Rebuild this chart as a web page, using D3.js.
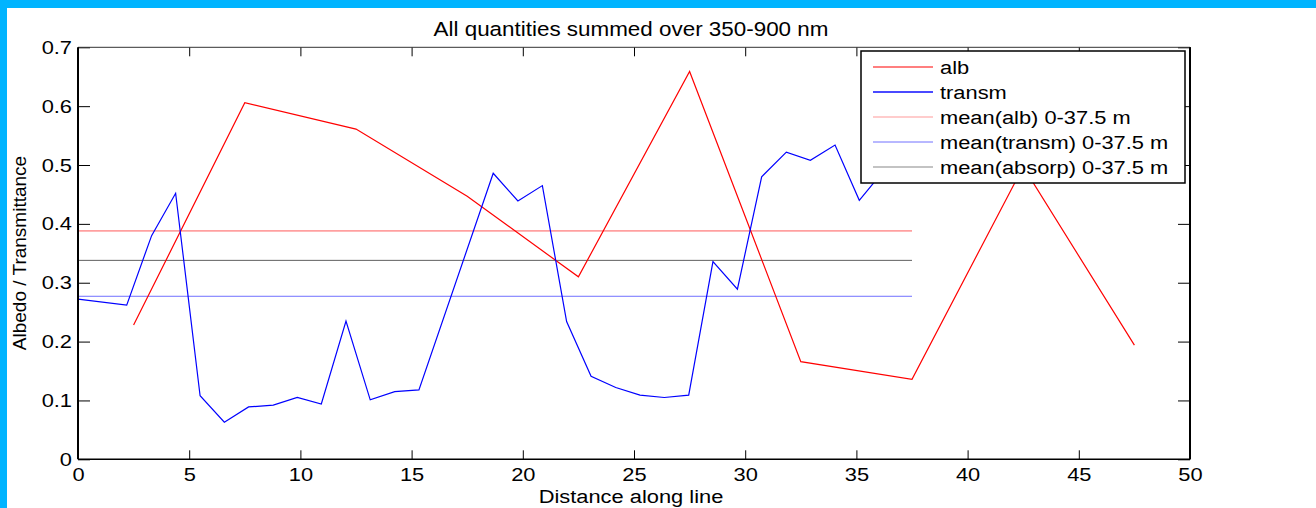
<!DOCTYPE html>
<meta charset="utf-8">
<script src="https://d3js.org/d3.v7.min.js"></script>
<style>
  body { margin: 0; background: #fff; }
  svg text { font-family: "Liberation Sans", Arial, sans-serif; fill: #000; }
</style>
<body>
<div id="chart"></div>
<script>

// distance along line for transmittance samples (m)
var transmX = [0, 2.19, 3.31, 4.39, 5.49, 6.58, 7.67, 8.78, 9.86, 10.94, 12.05, 13.14, 14.24, 15.33,
               18.67, 19.78, 20.88, 21.97, 23.07, 24.18, 25.27, 26.36, 27.46, 28.55, 29.65, 30.74,
               31.85, 32.93, 34.04, 35.13, 36.22];
var transm = [0.272, 0.262, 0.380, 0.452, 0.108, 0.063, 0.089, 0.092, 0.105, 0.094, 0.235, 0.101, 0.115, 0.118,
              0.486, 0.439, 0.465, 0.234, 0.141, 0.122, 0.109, 0.105, 0.109, 0.336, 0.289, 0.480,
              0.522, 0.508, 0.534, 0.440, 0.490];

// albedo samples
var albX = [2.5, 7.5, 12.5, 17.5, 22.5, 27.5, 32.5, 37.5, 42.5, 47.5];
var alb  = [0.228, 0.606, 0.561, 0.447, 0.310, 0.659, 0.166, 0.136, 0.497, 0.194];

// means over 0-37.5 m
var meanRange = [0, 37.5];
var meanNames  = ['mean(alb) 0-37.5 m', 'mean(transm) 0-37.5 m', 'mean(absorp) 0-37.5 m'];
var meanValues = [0.388, 0.277, 0.338];

var xTicks = [0, 5, 10, 15, 20, 25, 30, 35, 40, 45, 50];
var yTicks = [0, 0.1, 0.2, 0.3, 0.4, 0.5, 0.6, 0.7];

var W = 1316, H = 508;
var margin = {top: 47.3, left: 78, right: 126, bottom: 48.7};
var width = W - margin.left - margin.right,
    height = H - margin.top - margin.bottom;
var SX = 1.15; // the original figure was stretched sideways

var svg = d3.select('#chart').append('svg')
    .attr('width', W).attr('height', H);

// cyan frame
svg.append('rect').attr('x', 0).attr('y', 0).attr('width', W).attr('height', 8).attr('fill', '#00b4ff');
svg.append('rect').attr('x', 0).attr('y', 0).attr('width', 7).attr('height', H).attr('fill', '#00b4ff');

var g = svg.append('g').attr('transform', 'translate(' + margin.left + ',' + margin.top + ')');

var x = d3.scaleLinear().domain([0, 50]).range([0, width]);
var y = d3.scaleLinear().domain([0, 0.7]).range([height, 0]);

function hText(parent, px, py, str, size, anchor) {
    return parent.append('g')
        .attr('transform', 'translate(' + px + ',' + py + ') scale(' + SX + ',1)')
      .append('text')
        .attr('text-anchor', anchor || 'middle')
        .style('font-size', size + 'px')
        .text(str);
}

// mean lines
var meanColors = ['#ffa0a0', '#7070ff', '#606060'];
var meanWidths = [1.8, 1, 1];
meanValues.forEach(function(v, i) {
    g.append('line')
        .attr('x1', x(meanRange[0])).attr('x2', x(meanRange[1]))
        .attr('y1', y(v)).attr('y2', y(v))
        .attr('stroke', meanColors[i]).attr('stroke-width', meanWidths[i]);
});

var line = d3.line().x(function(d) { return x(d[0]); }).y(function(d) { return y(d[1]); });

g.append('path')
    .datum(d3.zip(albX, alb))
    .attr('d', line).attr('fill', 'none').attr('stroke', '#ff0000').attr('stroke-width', 1.2);

g.append('path')
    .datum(d3.zip(transmX, transm))
    .attr('d', line).attr('fill', 'none').attr('stroke', '#0000ff').attr('stroke-width', 1.2);

// axes
var fmt = function(d) { return d === 0 ? '0' : d3.format('.1f')(d); };

var xAxis = g.append('g').attr('transform', 'translate(0,' + height + ')')
    .call(d3.axisBottom(x).tickValues(xTicks).tickSize(-9).tickSizeOuter(0).tickPadding(8));
xAxis.selectAll('text').style('font-size', '19px').attr('dy', '0.71em')
    .attr('transform', 'scale(' + SX + ',1)');

var yAxis = g.append('g')
    .call(d3.axisLeft(y).tickValues(yTicks).tickFormat(fmt).tickSize(-12).tickSizeOuter(0));
yAxis.selectAll('text').style('font-size', '19px')
    .attr('x', -6 / SX).attr('transform', 'scale(' + SX + ',1)');

g.append('g').attr('transform', 'translate(' + width + ',0)')
    .call(d3.axisRight(y).tickValues(yTicks).tickFormat('').tickSize(-12).tickSizeOuter(0));
g.append('g')
    .call(d3.axisTop(x).tickValues(xTicks).tickFormat('').tickSize(-9).tickSizeOuter(0));

g.selectAll('.domain').remove();
g.selectAll('.tick line').attr('stroke', '#000');

// box
g.append('line').attr('x1', 0).attr('x2', width).attr('y1', 0).attr('y2', 0).attr('stroke', '#333').attr('stroke-width', 1);
g.append('line').attr('x1', 0).attr('x2', width).attr('y1', height).attr('y2', height).attr('stroke', '#000').attr('stroke-width', 1.5);
g.append('line').attr('x1', 0).attr('x2', 0).attr('y1', 0).attr('y2', height).attr('stroke', '#000').attr('stroke-width', 2);
g.append('line').attr('x1', width).attr('x2', width).attr('y1', 0).attr('y2', height).attr('stroke', '#000').attr('stroke-width', 2);

// legend
var legend = svg.append('g').attr('transform', 'translate(861,51)');
legend.append('rect').attr('width', 324).attr('height', 132)
    .attr('fill', '#fff').attr('stroke', '#000').attr('stroke-width', 1.5);
var legNames  = ['alb', 'transm'].concat(meanNames);
var legColors = ['#ff0000', '#4a4aff', '#ff9999', '#7070ff', '#888888'];
var legWidths = [1.2, 2, 1, 1, 1.2];
legNames.forEach(function(name, i) {
    var ly = 16 + i * 25;
    legend.append('line').attr('x1', 12).attr('x2', 72).attr('y1', ly).attr('y2', ly)
        .attr('stroke', legColors[i]).attr('stroke-width', legWidths[i]);
    hText(legend, 79, ly + 7, name, 19, 'start');
});

// titles
hText(svg, 631, 36, 'All quantities summed over 350-900 nm', 19.5, 'middle');
hText(svg, 631, 503, 'Distance along line', 19, 'middle');
svg.append('text')
    .attr('transform', 'translate(26,253) rotate(-90)')
    .attr('text-anchor', 'middle')
    .style('font-size', '19px')
    .text('Albedo / Transmittance');

</script>
</body>
